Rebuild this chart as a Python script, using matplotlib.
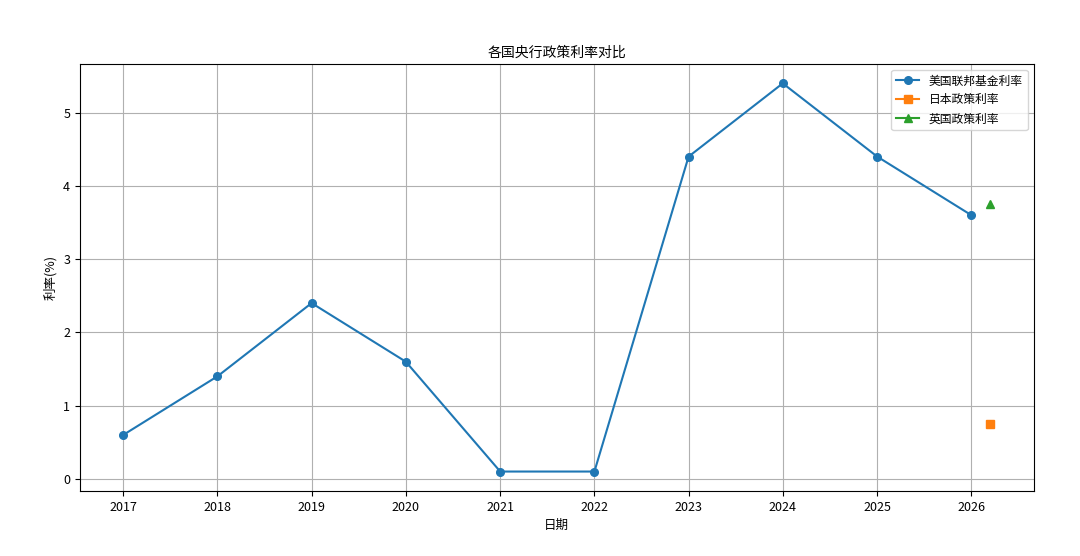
import matplotlib
matplotlib.use("Agg")
import matplotlib.pyplot as plt
import pandas as pd

plt.rcParams['font.family'] = ['Noto Sans CJK SC', 'DejaVu Sans']
plt.rcParams['axes.unicode_minus'] = False

us_dates = ["2017-01-01", "2018-01-01", "2019-01-01", "2020-01-01", "2021-01-01",
            "2022-01-01", "2023-01-01", "2024-01-01", "2025-01-01", "2026-01-01"]
us_rates = [0.6, 1.4, 2.4, 1.6, 0.1, 0.1, 4.4, 5.4, 4.4, 3.6]
jp_dates = ["2026-03-15"]
jp_rates = [0.75]
uk_dates = ["2026-03-15"]
uk_rates = [3.75]

series_names = ["美国联邦基金利率", "日本政策利率", "英国政策利率"]

fig = plt.figure(figsize=(10.8, 5.56), dpi=100)
ax = fig.add_axes([0.074, 0.117, 0.883, 0.768])

ax.plot(pd.to_datetime(us_dates), us_rates, marker='o', markersize=5.5, color='#1f77b4', label=series_names[0])
ax.plot(pd.to_datetime(jp_dates), jp_rates, marker='s', markersize=5.5, color='#ff7f0e', label=series_names[1])
ax.plot(pd.to_datetime(uk_dates), uk_rates, marker='^', markersize=5.5, color='#2ca02c', label=series_names[2])

ax.set_title("各国央行政策利率对比", fontsize=10, pad=5)
ax.set_xlabel("日期", fontsize=9)
ax.set_ylabel("利率(%)", fontsize=9)
ax.tick_params(labelsize=9)
ax.grid(True)
ax.legend(loc='upper right', fontsize=8.5)

fig.savefig("out.png", dpi=100)
